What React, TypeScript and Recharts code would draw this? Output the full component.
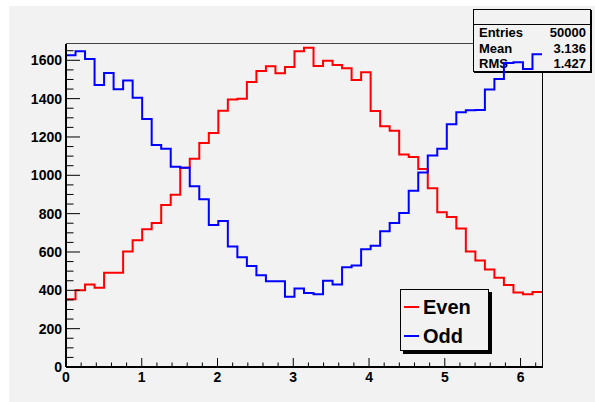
import React from 'react'
import { LineChart, Line, XAxis, YAxis, Legend } from 'recharts'

// 50 bins over [0, 2pi]
const binCount = 50
const xMax = 2 * Math.PI

const evenCounts = [
  353, 400, 430, 414, 492, 492, 603, 661, 718, 751,
  845, 899, 1040, 1087, 1169, 1221, 1337, 1395, 1400, 1487,
  1544, 1569, 1532, 1565, 1647, 1666, 1570, 1597, 1576, 1558,
  1497, 1537, 1336, 1256, 1233, 1108, 1096, 1033, 932, 807,
  783, 722, 603, 555, 508, 466, 428, 388, 379, 391,
]

const oddCounts = [
  1626, 1647, 1607, 1471, 1534, 1449, 1494, 1405, 1294, 1158,
  1139, 1045, 1040, 943, 875, 741, 762, 628, 572, 527,
  478, 447, 447, 367, 410, 386, 379, 450, 431, 520,
  530, 614, 633, 708, 751, 803, 920, 1015, 1103, 1139,
  1266, 1329, 1339, 1341, 1447, 1503, 1586, 1590, 1555, 1631,
]

const xTicks = Array.from({ length: 32 }, (_, i) => +(i * 0.2).toFixed(1))
const yTicks = Array.from({ length: 34 }, (_, i) => i * 50)

const stats = [
  { label: 'Entries', value: '50000' },
  { label: 'Mean', value: '3.136' },
  { label: 'RMS', value: '1.427' },
]

const binWidth = xMax / binCount
const data = evenCounts.map((v, i) => ({ x: i * binWidth, even: v, odd: oddCounts[i] }))
data.push({ x: xMax, even: evenCounts[binCount - 1], odd: oddCounts[binCount - 1] })

const FONT = '"Liberation Sans", Arial, Helvetica, sans-serif'
const BG = '#f2f2f2'

const XTick = (props: any) => {
  const { x, y, payload } = props
  const v = payload.value
  const major = Math.abs(v - Math.round(v)) < 1e-6
  return (
    <g>
      <line x1={x} x2={x} y1={y} y2={y - (major ? 9 : 4.5)} stroke="#000" strokeWidth={1} />
      {major && (
        <text x={x} y={y + 10} textAnchor="middle" dominantBaseline="central"
          fontFamily={FONT} fontWeight="bold" fontSize={14} fill="#000">
          {Math.round(v)}
        </text>
      )}
    </g>
  )
}

const YTick = (props: any) => {
  const { x, y, payload } = props
  const v = payload.value
  const major = v % 200 === 0
  return (
    <g>
      <line x1={x} x2={x + (major ? 14 : 7.5)} y1={y} y2={y} stroke="#000" strokeWidth={1} />
      {major && (
        <text x={x - 4} y={y} textAnchor="end" dominantBaseline="central"
          fontFamily={FONT} fontWeight="bold" fontSize={14} fill="#000">
          {v}
        </text>
      )}
    </g>
  )
}

const LegendBox = () => (
  <div style={{
    width: 89, height: 62, boxSizing: 'border-box', border: '1px solid #000',
    background: BG, boxShadow: '3px 3px 0 #000', position: 'relative', fontFamily: FONT,
  }}>
    {[{ name: 'Even', color: '#ff0000', y: 17 }, { name: 'Odd', color: '#0000ff', y: 46 }].map((e) => (
      <div key={e.name}>
        <div style={{ position: 'absolute', left: 3, top: e.y - 1, width: 15, height: 2, background: e.color }} />
        <div style={{
          position: 'absolute', left: 22, top: e.y - 12, height: 24, lineHeight: '24px',
          fontSize: 20, fontWeight: 'bold', color: '#000',
        }}>{e.name}</div>
      </div>
    ))}
  </div>
)

export default function App() {
  return (
    <div style={{ position: 'fixed', left: 0, top: 0, width: 595, height: 402, background: '#fff', overflow: 'hidden' }}>
      <div style={{ position: 'absolute', left: 9, top: 6, right: 0, bottom: 0, background: BG }} />
      {/* frame top/right */}
      <div style={{
        position: 'absolute', left: 66, top: 43, width: 476, height: 324,
        borderTop: '1px solid #444', borderRight: '1px solid #000',
      }} />
      {/* stats box */}
      <div style={{
        position: 'absolute', left: 473, top: 9, width: 118, height: 63, boxSizing: 'border-box',
        border: '1px solid #000', background: BG, boxShadow: '1px 1px 0 #000', fontFamily: FONT,
      }}>
        <div style={{ height: 14, borderBottom: '1px solid #000' }} />
        {stats.map((s) => (
          <div key={s.label} style={{
            display: 'flex', justifyContent: 'space-between', padding: '0 4px 0 5px',
            height: 15.5, lineHeight: '15.5px', fontSize: 13, fontWeight: 'bold', color: '#000',
          }}>
            <span>{s.label}</span>
            <span>{s.value}</span>
          </div>
        ))}
      </div>
      <div style={{ position: 'absolute', left: 0, top: 0 }}>
        <LineChart width={595} height={402} data={data}
          margin={{ top: 44, right: 53, bottom: 5, left: 10 }}>
          <XAxis dataKey="x" type="number" domain={[0, xMax]} ticks={xTicks} interval={0}
            allowDataOverflow height={30} tickSize={0} tickMargin={0} tickLine={false}
            axisLine={{ stroke: '#000', strokeWidth: 2 }} tick={<XTick />} />
          <YAxis type="number" domain={[0, 1685]} ticks={yTicks} interval={0}
            allowDataOverflow width={56} tickSize={0} tickMargin={0} tickLine={false}
            axisLine={{ stroke: '#000', strokeWidth: 2 }} tick={<YTick />} />
          <Legend layout="horizontal" verticalAlign="middle" align="center"
            wrapperStyle={{ left: 400, top: 289, width: 92, height: 65 }}
            content={() => <LegendBox />} />
          <Line type="stepAfter" dataKey="even" name="Even" stroke="#ff0000" strokeWidth={2}
            dot={false} activeDot={false} isAnimationActive={false} />
          <Line type="stepAfter" dataKey="odd" name="Odd" stroke="#0000ff" strokeWidth={2}
            dot={false} activeDot={false} isAnimationActive={false} />
        </LineChart>
      </div>
    </div>
  )
}
